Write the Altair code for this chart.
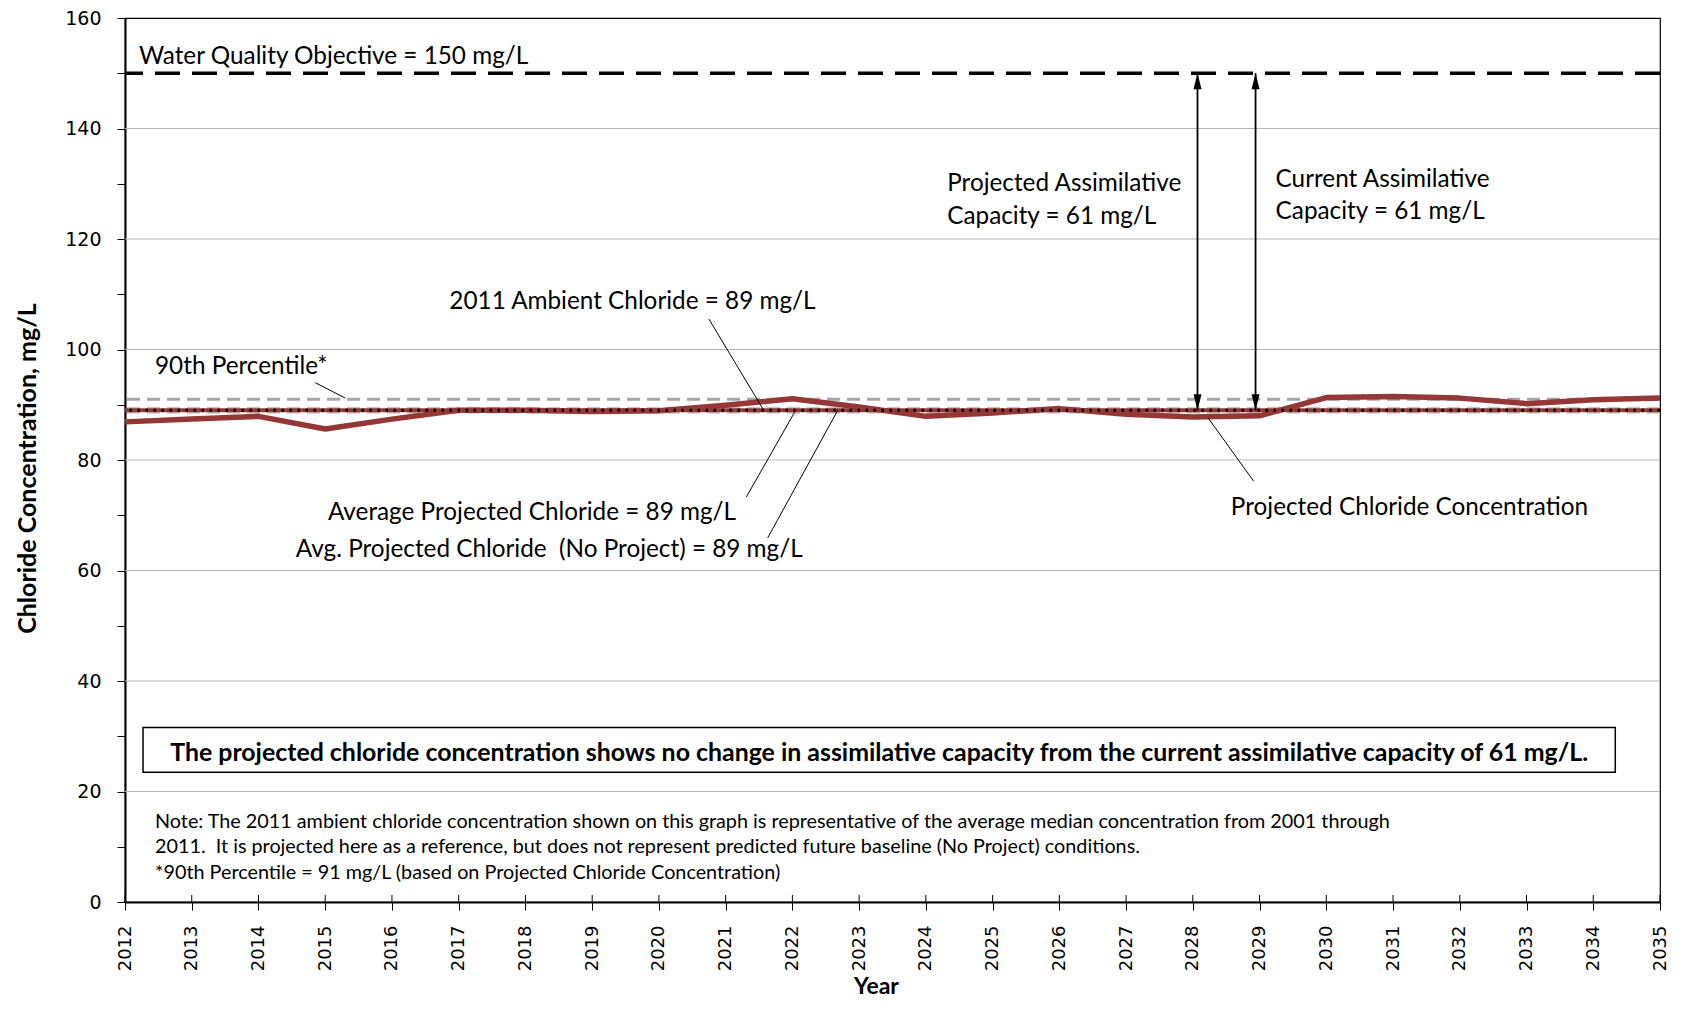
import altair as alt
import pandas as pd

# ---------------- data ----------------
years = list(range(2012, 2036))
projected = [86.9, 87.4, 87.9, 85.6, 87.4, 89.0, 89.0, 88.8, 88.9, 89.9, 91.1, 89.6,
             87.9, 88.5, 89.3, 88.3, 87.8, 88.0, 91.3, 91.5, 91.2, 90.2, 90.9, 91.2]
wqo = 150
p90 = 91
ambient_2011 = 89
avg_projected = 89
avg_no_project = 89
grid_values = [20, 40, 60, 80, 100, 120, 140]
y_tick_values = list(range(0, 161, 10))
arrow_x = [2028.07, 2028.94]

leader_x = [2014.85, 2020.75, 2021.31, 2021.63, 2028.91]
leader_y = [94.0, 105.5, 73.3, 65.9, 76.2]
leader_x2 = [2015.30, 2021.56, 2022.05, 2022.68, 2028.23]
leader_y2 = [91.2, 89.2, 89.0, 89.0, 87.6]

label_texts = ["Water Quality Objective = 150 mg/L", "90th Percentile*",
               "2011 Ambient Chloride = 89 mg/L",
               "Projected Assimilative", "Capacity = 61 mg/L",
               "Current Assimilative", "Capacity = 61 mg/L",
               "Average Projected Chloride = 89 mg/L",
               "Avg. Projected Chloride \u00a0(No Project) = 89 mg/L",
               "Projected Chloride Concentration"]
label_x = [2012.21, 2012.45, 2016.86, 2024.32, 2024.32, 2029.24, 2029.24, 2015.04, 2014.56, 2028.57]
label_y = [153.0, 96.8, 108.6, 129.9, 123.9, 130.7, 124.9, 70.4, 63.8, 71.4]

box_x, box_x2, box_y, box_y2 = [2012.27], [2034.33], [31.6], [23.5]
box_text = ["The projected chloride concentration shows no change in assimilative capacity from the current assimilative capacity of 61 mg/L."]
box_text_x, box_text_y = [2023.30], [26.8]

note_lines = ["Note: The 2011 ambient chloride concentration shown on this graph is representative of the average median concentration from 2001 through",
              "2011. \u00a0It is projected here as a reference, but does not represent predicted future baseline (No Project) conditions.",
              "*90th Percentile = 91 mg/L (based on Projected Chloride Concentration)"]
note_x = [2012.45, 2012.45, 2012.45]
note_y = [14.5, 9.9, 5.2]

# ---------------- styling ----------------
W, H = 1535, 884
RED = "#953735"
FONT = "Lato"

xs = alt.Scale(domain=[2012, 2035], nice=False, zero=False)
ys = alt.Scale(domain=[0, 160], nice=False, zero=True)

xaxis = alt.Axis(values=years, format="d", labelAngle=270, labelFont="DejaVu Sans",
                 labelFontSize=18, labelColor="black", tickColor="black", tickSize=8,
                 tickWidth=1, labelPadding=15, domainColor="black", domainWidth=2,
                 grid=False, title="Year", titleFont=FONT, titleFontSize=23,
                 titleFontWeight="bold", titleColor="black", titleX=751, titleY=91,
                 titleAlign="center", titleBaseline="alphabetic")
yaxis = alt.Axis(values=y_tick_values, labelExpr="datum.value % 20 == 0 ? datum.label : ''",
                 labelFont="DejaVu Sans", labelFontSize=19, labelColor="black",
                 tickColor="black", tickSize=8, tickWidth=1, labelPadding=16,
                 domainColor="black", domainWidth=2, grid=False,
                 title="Chloride Concentration, mg/L", titleFont=FONT, titleFontSize=25,
                 titleFontWeight="bold", titleColor="black", titleAngle=270,
                 titleX=-98, titleY=450, titleAlign="center", titleBaseline="middle")

TX = "Year"
TY = "Chloride Concentration, mg/L"


def X(f="x"):
    return alt.X(f"{f}:Q", scale=xs, axis=xaxis, title=TX)


def Y(f="y"):
    return alt.Y(f"{f}:Q", scale=ys, axis=yaxis, title=TY)


# ---------------- layers ----------------
grid = alt.Chart(pd.DataFrame({"y": grid_values})).mark_rule(
    color="#b4b4b4", strokeWidth=1).encode(y=Y())

# x tick marks crossing into the plot
inner_ticks = alt.Chart(pd.DataFrame({"x": years})).mark_rule(
    color="black", strokeWidth=1).encode(x=X(), y=alt.value(H - 7), y2=alt.value(H))

wqo_rule = alt.Chart(pd.DataFrame({"y": [wqo]})).mark_rule(
    color="black", strokeWidth=3.5, strokeDash=[25, 12]).encode(y=Y())
p90_rule = alt.Chart(pd.DataFrame({"y": [p90]})).mark_rule(
    color="#a6a6a6", strokeWidth=3, strokeDash=[13, 7]).encode(y=Y())
noproj_rule = alt.Chart(pd.DataFrame({"y": [avg_no_project]})).mark_rule(
    color="#c8c8c8", strokeWidth=7, strokeDash=[13, 7]).encode(y=Y())
avg_rule = alt.Chart(pd.DataFrame({"y": [avg_projected]})).mark_rule(
    color=RED, strokeWidth=4).encode(y=Y())

proj_line = alt.Chart(pd.DataFrame({"x": years, "y": projected})).mark_line(
    color=RED, strokeWidth=5.5, strokeJoin="round").encode(x=X(), y=Y())

amb_rule = alt.Chart(pd.DataFrame({"y": [ambient_2011]})).mark_rule(
    color="black", strokeWidth=3, strokeDash=[2.5, 5.5], strokeCap="butt").encode(y=Y())

arrows_df = pd.DataFrame({"x": arrow_x, "y": [ambient_2011] * 2, "y2": [wqo] * 2})
arrow_lines = alt.Chart(arrows_df).mark_rule(color="black", strokeWidth=1.8).encode(
    x=X(), y=Y(), y2="y2:Q")
heads_up = alt.Chart(pd.DataFrame({"x": arrow_x, "y": [wqo] * 2})).mark_point(
    shape="M -1 4 L 1 4 L 0 0 Z", size=64, filled=True, color="black", opacity=1,
    strokeWidth=0).encode(x=X(), y=Y())
heads_down = alt.Chart(pd.DataFrame({"x": arrow_x, "y": [ambient_2011] * 2})).mark_point(
    shape="M -1 -4 L 1 -4 L 0 0 Z", size=64, filled=True, color="black", opacity=1,
    strokeWidth=0).encode(x=X(), y=Y())

leaders = alt.Chart(pd.DataFrame({"x": leader_x, "y": leader_y, "x2": leader_x2, "y2": leader_y2})
                    ).mark_rule(color="black", strokeWidth=1).encode(
    x=X(), y=Y(), x2="x2:Q", y2="y2:Q")

labels = alt.Chart(pd.DataFrame({"x": label_x, "y": label_y, "t": label_texts})).mark_text(
    align="left", baseline="middle", font=FONT, fontSize=24.3, color="black").encode(
    x=X(), y=Y(), text="t:N")

box = alt.Chart(pd.DataFrame({"x": box_x, "x2": box_x2, "y": box_y, "y2": box_y2})).mark_rect(
    fill="white", stroke="black", strokeWidth=1.5).encode(x=X(), y=Y(), x2="x2:Q", y2="y2:Q")
box_label = alt.Chart(pd.DataFrame({"x": box_text_x, "y": box_text_y, "t": box_text})).mark_text(
    align="center", baseline="middle", font=FONT, fontSize=24.9, fontWeight="bold",
    color="black").encode(x=X(), y=Y(), text="t:N")

notes = alt.Chart(pd.DataFrame({"x": note_x, "y": note_y, "t": note_lines})).mark_text(
    align="left", baseline="middle", font=FONT, fontSize=19.8, color="black").encode(
    x=X(), y=Y(), text="t:N")

chart = alt.layer(
    grid, inner_ticks, wqo_rule, p90_rule, noproj_rule, avg_rule, proj_line, amb_rule,
    arrow_lines, heads_up, heads_down, leaders, labels, box, box_label, notes
).properties(
    width=W, height=H,
    autosize=alt.AutoSizeParams(type="none"),
    padding={"left": 117, "top": 10, "right": 14, "bottom": 98},
    background="white",
).configure_view(stroke="black", strokeWidth=1.2)

chart.save("out.html", embed_options={"renderer": "svg", "actions": False})
